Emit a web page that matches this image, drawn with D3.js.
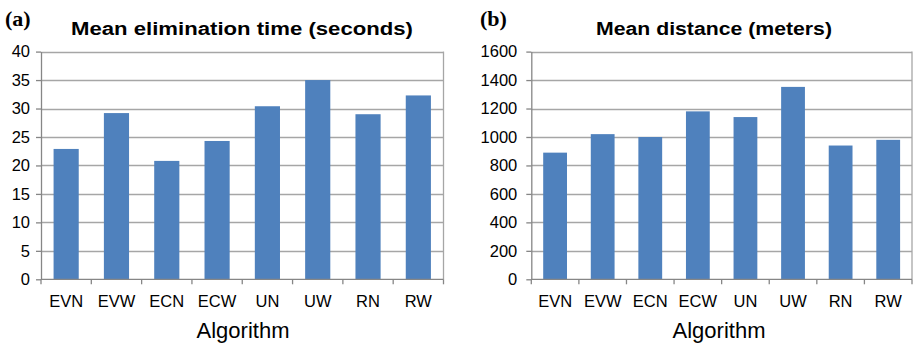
<!DOCTYPE html>
<html>
<head>
<meta charset="utf-8">
<script src="https://cdn.jsdelivr.net/npm/d3@7"></script>
<style>
  body { margin: 0; background: white; }
  svg { display: block; font-family: Arial, "Liberation Sans", sans-serif; }
</style>
</head>
<body>
<script>
// data
var algorithms = ['EVN', 'EVW', 'ECN', 'ECW', 'UN', 'UW', 'RN', 'RW'];
var elimTime = [22.9, 29.2, 20.8, 24.3, 30.4, 35.0, 29.0, 32.3];
var distance = [890, 1020, 1000, 1180, 1140, 1352, 940, 980];
var timeTicks = [0, 5, 10, 15, 20, 25, 30, 35, 40];
var distTicks = [0, 200, 400, 600, 800, 1000, 1200, 1400, 1600];

var width = 914, height = 348;
var barColor = '#4f81bd';
var gridColor = '#a6a6a6';
var axisColor = '#868686';

var svg = d3.select('body').append('svg')
  .attr('width', width)
  .attr('height', height);

function drawPanel(opts) {
  var g = svg.append('g');

  var x = d3.scaleBand()
    .domain(algorithms)
    .range([opts.left, opts.right])
    .paddingInner(0.5)
    .paddingOuter(0.25);

  var y = d3.scaleLinear()
    .domain([0, opts.max])
    .range([opts.bottom, opts.top]);

  // grid lines
  g.selectAll('.grid')
    .data(opts.ticks.slice(1))
    .enter().append('line')
    .attr('x1', opts.left).attr('x2', opts.right)
    .attr('y1', function(d) { return Math.round(y(d)) + 0.5; })
    .attr('y2', function(d) { return Math.round(y(d)) + 0.5; })
    .attr('stroke', gridColor)
    .attr('stroke-width', 1.3);

  // right border
  g.append('line')
    .attr('x1', opts.right).attr('x2', opts.right)
    .attr('y1', y(opts.max)).attr('y2', opts.bottom)
    .attr('stroke', gridColor)
    .attr('stroke-width', 1.3);

  // bars
  g.selectAll('.bar')
    .data(opts.values)
    .enter().append('rect')
    .attr('x', function(d, i) { return x(algorithms[i]); })
    .attr('y', function(d) { return y(d); })
    .attr('width', x.bandwidth())
    .attr('height', function(d) { return opts.bottom - y(d); })
    .attr('fill', barColor);

  // y axis
  var yAxis = d3.axisLeft(y)
    .tickValues(opts.ticks)
    .tickFormat(d3.format('d'))
    .tickSize(5)
    .tickPadding(opts.tickPad)
    .tickSizeOuter(0);
  var ya = g.append('g')
    .attr('transform', 'translate(' + opts.left + ',0)')
    .call(yAxis);
  ya.select('.domain').attr('stroke', axisColor).attr('stroke-width', 1.3);
  ya.selectAll('.tick line').attr('stroke', axisColor).attr('stroke-width', 1.3);
  ya.selectAll('.tick text')
    .attr('font-size', '16.5px')
    .attr('fill', '#000')
    .attr('font-family', 'Arial, "Liberation Sans", sans-serif');

  // x axis: ticks between categories
  var step = x.step();
  var bounds = d3.range(algorithms.length + 1).map(function(i) { return opts.left + i * step; });
  g.append('line')
    .attr('x1', opts.left).attr('x2', opts.right)
    .attr('y1', opts.bottom).attr('y2', opts.bottom)
    .attr('stroke', axisColor)
    .attr('stroke-width', 1.3);
  g.selectAll('.xtick')
    .data(bounds)
    .enter().append('line')
    .attr('x1', function(d) { return d; })
    .attr('x2', function(d) { return d; })
    .attr('y1', opts.bottom).attr('y2', opts.bottom + 5)
    .attr('stroke', axisColor)
    .attr('stroke-width', 1.3);

  g.selectAll('.xlabel')
    .data(algorithms)
    .enter().append('text')
    .attr('x', function(d) { return x(d) + x.bandwidth() / 2; })
    .attr('y', 307)
    .attr('text-anchor', 'middle')
    .attr('font-size', '16.5px')
    .text(function(d) { return d; });

  g.append('text')
    .attr('x', opts.axisTitleX)
    .attr('y', 338)
    .attr('text-anchor', 'middle')
    .attr('font-size', '22px')
    .text('Algorithm');

  // title (wide bold face in the picture)
  g.append('text')
    .attr('x', opts.titleX)
    .attr('y', 35)
    .attr('font-size', '18px')
    .attr('font-weight', 'bold')
    .attr('textLength', opts.titleWidth)
    .attr('lengthAdjust', 'spacingAndGlyphs')
    .text(opts.title);

  // panel letter
  g.append('text')
    .attr('x', opts.letterX)
    .attr('y', 26)
    .attr('font-family', '"Liberation Serif", "Times New Roman", serif')
    .attr('font-weight', 'bold')
    .attr('font-size', '22px')
    .text(opts.letter);
}

drawPanel({
  left: 41, right: 443.5, top: 51.6, bottom: 279.3,
  max: 40, ticks: timeTicks, values: elimTime, tickPad: 6,
  title: 'Mean elimination time (seconds)', titleX: 71, titleWidth: 342,
  axisTitleX: 243, letter: '(a)', letterX: 5
});

drawPanel({
  left: 531.3, right: 912, top: 51.6, bottom: 279.3,
  max: 1600, ticks: distTicks, values: distance, tickPad: 9,
  title: 'Mean distance (meters)', titleX: 596, titleWidth: 236,
  axisTitleX: 719, letter: '(b)', letterX: 480
});
</script>
</body>
</html>
